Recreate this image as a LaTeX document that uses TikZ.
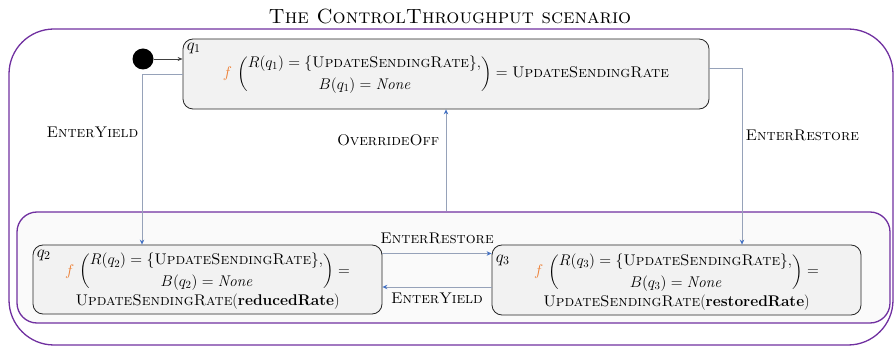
\RequirePackage{fix-cm}
\documentclass[tikz,border=0pt]{standalone}
\usepackage{amsmath}
\usepackage{fontspec}
\usetikzlibrary{arrows.meta,positioning,calc}

\definecolor{scenepurple}{RGB}{112,48,160}
\definecolor{linkgray}{RGB}{150,162,185}
\definecolor{tipblue}{RGB}{68,114,196}
\definecolor{fnorange}{RGB}{237,125,49}
\definecolor{statefill}{RGB}{242,242,242}
\definecolor{loopfill}{RGB}{250,250,250}

\newcommand{\usr}{\textsc{UpdateSendingRate}}
\newcommand{\fq}[1]{{\color{fnorange}f}\,\left(\begin{array}{@{}c@{}}R(q_{#1}) = \{\usr\},\\ B(q_{#1}) = \mathit{None}\end{array}\right)}
\renewcommand{\arraystretch}{1.15}
\delimiterfactor=700
\delimitershortfall=12pt

\tikzset{
  every state/.style={draw=black!85, fill=statefill, rounded corners=10pt, line width=0.8pt, align=center},
  frame/.style={draw=scenepurple, line width=1.3pt},
  link/.style={draw=linkgray, line width=0.8pt, -{Stealth[length=5pt,width=4.5pt,color=tipblue]}},
}

\begin{document}
\begin{tikzpicture}[x=1pt, y=-1pt, font=\fontsize{15.5}{19}\selectfont]
\useasboundingbox (0,0) rectangle (894,347);

\node (title) at (450,17) {\fontsize{20.5}{24}\selectfont\textsc{The ControlThroughput scenario}};

% scenario frame and the inner loop
\draw[frame, rounded corners=45pt] (9,29) rectangle (893,345);
\node[frame, fill=loopfill, rounded corners=20pt, minimum width=873pt, minimum height=111pt] (loop) at (453.5,267.5) {};

% states
\node[every state, minimum width=526pt, minimum height=70pt] (q1) at (446,74) {$\fq{1} = \usr$};
\node[every state, minimum width=349pt, minimum height=69pt] (q2) at (207.5,279.5) {$\fq{2} =$\\ \usr(\textbf{reducedRate})};
\node[every state, minimum width=369pt, minimum height=70pt] (q3) at (676.5,280) {$\fq{3} =$\\ \usr(\textbf{restoredRate})};

\foreach \s/\dy in {1/0,2/1,3/6}
  \node[anchor=north west, inner sep=4pt, yshift=-\dy pt, font=\fontsize{17}{20}\selectfont] (q\s-tag) at (q\s.north west) {$q_{\s}$};

% initial state
\node[circle, fill=black, minimum size=21pt, inner sep=0pt] (init) at (143,59) {};
\draw[black!75, line width=0.8pt, -{Stealth[length=5pt,width=4pt]}] (init) -- (init -| q1.west);

% transitions
\coordinate (yield-bend) at (142,74);
\coordinate (restore-bend) at (742,68);
\draw[link] (q1.west) -- (yield-bend) -- (yield-bend |- q2.north)
  node[left, pos=0.34] {\textsc{EnterYield}};
\draw[link] (loop.north -| q1.south) -- (q1.south)
  node[left, pos=0.7, xshift=-3pt] {\textsc{OverrideOff}};
\draw[link] (q1.east |- restore-bend) -- (restore-bend) -- (restore-bend |- q3.north)
  node[right, pos=0.38] {\textsc{EnterRestore}};

\coordinate (r-out) at ([yshift=26pt]q2.east);
\coordinate (y-out) at ([yshift=-7pt]q3.west);
\draw[link] (r-out) -- (r-out -| q3.west)
  node[midway, above=6pt] {\textsc{EnterRestore}};
\draw[link] (y-out) -- (y-out -| q2.east)
  node[midway, below=2pt] {\textsc{EnterYield}};

\end{tikzpicture}
\end{document}
